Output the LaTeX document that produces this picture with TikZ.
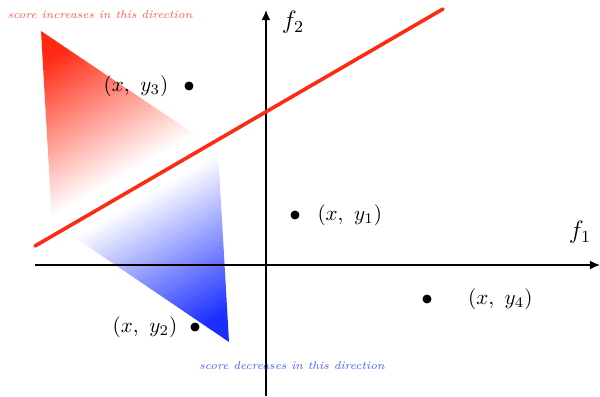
\documentclass[tikz,border=0pt]{standalone}
\usetikzlibrary{arrows.meta,positioning}
\definecolor{scorered}{HTML}{FF2A14}
\definecolor{scoreblue}{HTML}{1A2EFF}
\definecolor{hintred}{HTML}{FF5A46}
\definecolor{hintblue}{HTML}{465AFF}
% red on top, a white band in the middle, blue at the bottom
\pgfdeclareverticalshading{scoreflow}{100bp}{color(0bp)=(scoreblue); color(20.7bp)=(scoreblue);
  color(47.6bp)=(white); color(52.9bp)=(white); color(79.3bp)=(scorered); color(100bp)=(scorered)}

\begin{document}
\begin{tikzpicture}[x=1.67mm, y=1.67mm,
    axis/.style={draw=black, line width=0.65pt, -{Latex[length=1.7mm, width=1.5mm]}},
    sample/.style={circle, fill=black, inner sep=0pt, minimum size=1.5mm},
    boundary/.style={draw=scorered, line width=1.7pt, line cap=round},
    hint/.style={font=\fontsize{5.4}{6}\selectfont\itshape},
  ]
  \useasboundingbox (-26.6, -13.1) rectangle (33.4, 26.5);

  % score gradient across the boundary: red side up, blue side down
  \shade[shading=scoreflow, shading angle=30]
    (-22.5, 23.4) -- (-4.8, 11.5) -- (-3.7, -7.7) -- (-21.4, 4.3) -- cycle;

  % axes
  \coordinate (xstart) at (-23.1, 0);
  \coordinate (xend) at (33.4, 0);
  \coordinate (ystart) at (0, -13.1);
  \coordinate (yend) at (0, 25.5);
  \draw[axis] (xstart) -- (xend);
  \draw[axis] (ystart) -- (yend);
  \node[font=\large] (f1) at (31.4, 3.3) {$f_1$};
  \node[font=\large] (f2) at (2.7, 24.3) {$f_2$};

  % decision boundary
  \coordinate (bstart) at (-23.1, 1.9);
  \coordinate (bend) at (17.7, 25.6);
  \draw[boundary] (bstart) -- (bend);

  % samples
  \node[sample] (p1) at (2.9, 5.0) {};
  \node[sample] (p2) at (-7.1, -6.2) {};
  \node[sample] (p3) at (-7.7, 17.9) {};
  \node[sample] (p4) at (16.1, -3.4) {};
  \node[right=1.7mm of p1] (l1) {$(x,\ y_1)$};
  \node[left=0.9mm of p2] (l2) {$(x,\ y_2)$};
  \node[left=1.4mm of p3] (l3) {$(x,\ y_3)$};
  \node[right=4.8mm of p4] (l4) {$(x,\ y_4)$};

  % direction hints
  \node[hint, text=hintred] (up) at (-16.6, 25.0) {score increases in this direction};
  \node[hint, text=hintblue] (down) at (2.6, -10.1) {score decreases in this direction};
\end{tikzpicture}
\end{document}
